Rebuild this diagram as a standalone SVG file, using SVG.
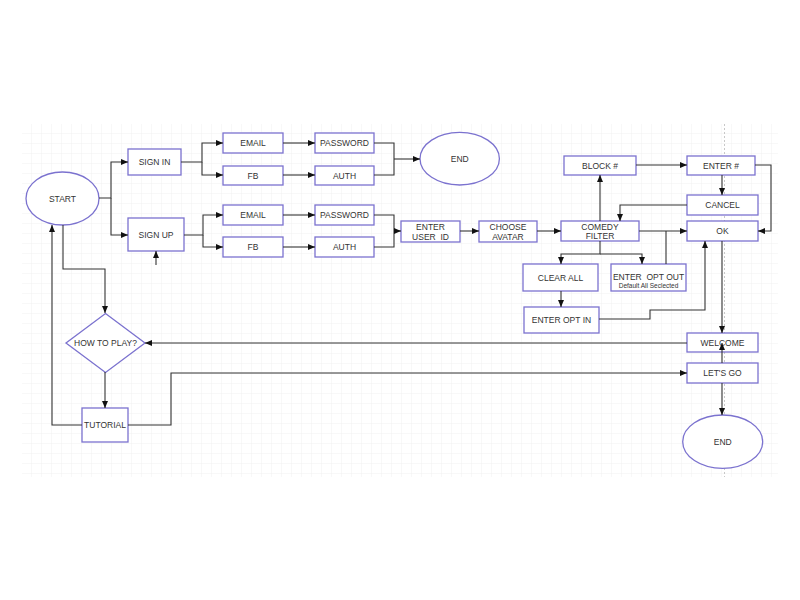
<svg xmlns="http://www.w3.org/2000/svg" width="800" height="600" viewBox="0 0 800 600">
<style>
.n{fill:#fff;stroke:#7b72cf;stroke-width:1.3}
.t{font-family:"Liberation Sans",Arial,sans-serif;font-size:8.5px;fill:#333;text-anchor:middle;dominant-baseline:central;white-space:pre}
.s{font-size:6.5px}
.c path{fill:none;stroke:#333;stroke-width:1.1}
</style>
<defs>
<pattern id="g" x="22" y="124" width="10" height="10" patternUnits="userSpaceOnUse">
<path d="M10,0 V10 M0,10 H10" fill="none" stroke="#ececec" stroke-width="0.8"/>
</pattern>
<marker id="a" markerWidth="7" markerHeight="6" refX="7" refY="3" orient="auto" markerUnits="userSpaceOnUse">
<path d="M0,0 L7,3 L0,6 z" fill="#111"/>
</marker>
</defs>
<rect width="800" height="600" fill="#fff"/>
<rect x="22" y="124" width="756" height="353" fill="url(#g)"/>
<path d="M724.5,124 V477" stroke="#c8c8c8" stroke-width="1" stroke-dasharray="2,2"/>

<g id="start"><ellipse class="n" cx="62.5" cy="198.5" rx="36.5" ry="26.5"/><text class="t" x="62.5" y="198.5">START</text></g>
<g id="sign-in"><rect class="n" x="128" y="149" width="53" height="26"/><text class="t" x="154.5" y="162">SIGN IN</text></g>
<g id="sign-up"><rect class="n" x="128" y="218" width="56" height="33"/><text class="t" x="156" y="234.5">SIGN UP</text></g>
<g id="email1"><rect class="n" x="223" y="133" width="60" height="20"/><text class="t" x="253" y="143">EMAIL</text></g>
<g id="fb1"><rect class="n" x="223" y="166" width="60" height="19"/><text class="t" x="253" y="175.5">FB</text></g>
<g id="password1"><rect class="n" x="315" y="133" width="59" height="20"/><text class="t" x="344.5" y="143">PASSWORD</text></g>
<g id="auth1"><rect class="n" x="315" y="166" width="59" height="19"/><text class="t" x="344.5" y="175.5">AUTH</text></g>
<g id="end1"><ellipse class="n" cx="459.7" cy="158.7" rx="39.7" ry="26.3"/><text class="t" x="459.7" y="158.7">END</text></g>
<g id="email2"><rect class="n" x="223" y="205" width="60" height="20"/><text class="t" x="253" y="215">EMAIL</text></g>
<g id="fb2"><rect class="n" x="223" y="237" width="60" height="20"/><text class="t" x="253" y="247">FB</text></g>
<g id="password2"><rect class="n" x="315" y="205" width="59" height="20"/><text class="t" x="344.5" y="215">PASSWORD</text></g>
<g id="auth2"><rect class="n" x="315" y="237" width="59" height="20"/><text class="t" x="344.5" y="247">AUTH</text></g>
<g id="enter-user-id"><rect class="n" x="401" y="221" width="59" height="21"/><text class="t" x="430.5" y="227">ENTER</text><text class="t" x="430.5" y="236.5">USER  ID</text></g>
<g id="choose-avatar"><rect class="n" x="479" y="221" width="58" height="21"/><text class="t" x="508" y="227">CHOOSE</text><text class="t" x="508" y="236.5">AVATAR</text></g>
<g id="comedy-filter"><rect class="n" x="561" y="221" width="78" height="20"/><text class="t" x="600" y="226.5">COMEDY</text><text class="t" x="600" y="236">FILTER</text></g>
<g id="block"><rect class="n" x="564" y="156" width="72" height="19"/><text class="t" x="600" y="165.5">BLOCK #</text></g>
<g id="enter-num"><rect class="n" x="687" y="156" width="68" height="19"/><text class="t" x="721" y="165.5">ENTER #</text></g>
<g id="cancel"><rect class="n" x="687" y="195" width="71" height="20"/><text class="t" x="722.5" y="205">CANCEL</text></g>
<g id="ok"><rect class="n" x="687" y="221" width="71" height="20"/><text class="t" x="722.5" y="231">OK</text></g>
<g id="clear-all"><rect class="n" x="523" y="264" width="75" height="27"/><text class="t" x="560.5" y="277.5">CLEAR ALL</text></g>
<g id="enter-opt-out"><rect class="n" x="611" y="264" width="75" height="27"/><text class="t" x="648.5" y="277">ENTER  OPT OUT</text><text class="t s" x="648.5" y="285.5">Default All Seclected</text></g>
<g id="enter-opt-in"><rect class="n" x="524" y="307" width="75" height="26"/><text class="t" x="561.5" y="320">ENTER OPT IN</text></g>
<g id="welcome"><rect class="n" x="687" y="333" width="71" height="19"/><text class="t" x="722.5" y="342.5">WELCOME</text></g>
<g id="lets-go"><rect class="n" x="687" y="363" width="71" height="20"/><text class="t" x="722.5" y="373">LET'S GO</text></g>
<g id="end2"><ellipse class="n" cx="722.7" cy="441.7" rx="40" ry="26.7"/><text class="t" x="722.7" y="441.7">END</text></g>
<g id="how-to-play"><polygon class="n" points="105.5,313.5 145,343 105.5,372.5 66,343"/><text class="t" x="105.5" y="343">HOW TO PLAY?</text></g>
<g id="tutorial"><rect class="n" x="82" y="408" width="46" height="34"/><text class="t" x="105" y="425">TUTORIAL</text></g>

<g class="c" id="connectors">
<path d="M99,198 H111 V162 H128" marker-end="url(#a)"/>
<path d="M111,198 V235 H128" marker-end="url(#a)"/>
<path d="M181,162 H202 V143 H223" marker-end="url(#a)"/>
<path d="M202,162 V175 H223" marker-end="url(#a)"/>
<path d="M283,143 H315" marker-end="url(#a)"/>
<path d="M283,175 H315" marker-end="url(#a)"/>
<path d="M374,143 H394 V175 H374"/>
<path d="M394,159 H420" marker-end="url(#a)"/>
<path d="M184,235 H203 V215 H223" marker-end="url(#a)"/>
<path d="M203,235 V247 H223" marker-end="url(#a)"/>
<path d="M283,215 H315" marker-end="url(#a)"/>
<path d="M283,247 H315" marker-end="url(#a)"/>
<path d="M374,215 H394 V247 H374"/>
<path d="M394,231 H401" marker-end="url(#a)"/>
<path d="M460,231 H479" marker-end="url(#a)"/>
<path d="M537,231 H561" marker-end="url(#a)"/>
<path d="M600,221 V175" marker-end="url(#a)"/>
<path d="M636,165 H687" marker-end="url(#a)"/>
<path d="M722,175 V195" marker-end="url(#a)"/>
<path d="M755,165 H771 V231 H758" marker-end="url(#a)"/>
<path d="M687,205 H620 V221" marker-end="url(#a)"/>
<path d="M639,231 H687" marker-end="url(#a)"/>
<path d="M600,241 V254 H561 V264" marker-end="url(#a)"/>
<path d="M600,254 H642 V264" marker-end="url(#a)"/>
<path d="M666,264 V231"/>
<path d="M561,291 V307" marker-end="url(#a)"/>
<path d="M599,319 H650 V310 H705 V241" marker-end="url(#a)"/>
<path d="M722,241 V333" marker-end="url(#a)"/>
<path d="M722,363 V343" marker-end="url(#a)"/>
<path d="M722,383 V415" marker-end="url(#a)"/>
<path d="M687,343 H145" marker-end="url(#a)"/>
<path d="M128,425 H171 V373 H687" marker-end="url(#a)"/>
<path d="M82,425 H52 V225" marker-end="url(#a)"/>
<path d="M63,225 V269 H105 V313" marker-end="url(#a)"/>
<path d="M105,372 V408" marker-end="url(#a)"/>
<path d="M156,265 V251" marker-end="url(#a)"/>
</g>
</svg>
